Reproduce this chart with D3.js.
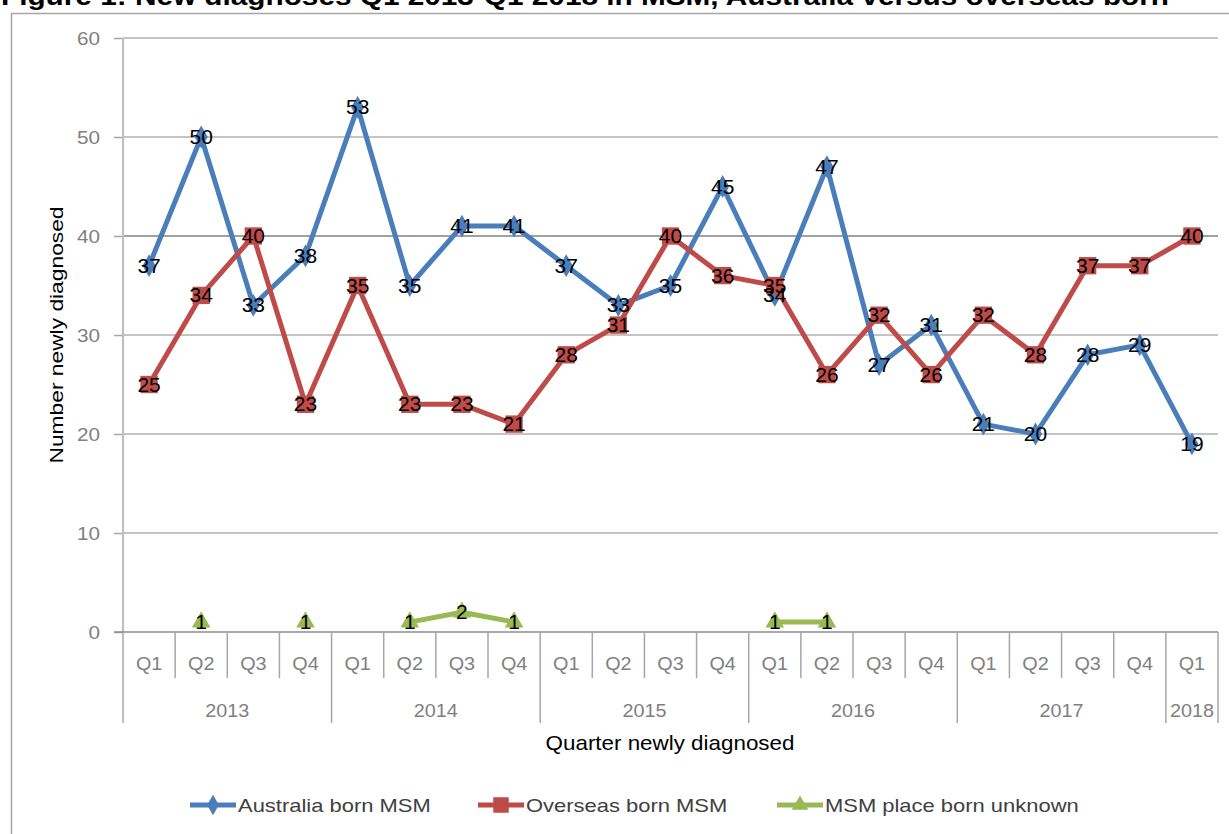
<!DOCTYPE html>
<html><head><meta charset="utf-8">
<script src="https://cdn.jsdelivr.net/npm/d3@7"></script>
<style>body{margin:0;background:#fff;overflow:hidden}svg{display:block}</style>
</head><body>
<svg id="c" width="1229" height="834"></svg>
<script>
const quarters = ["Q1","Q2","Q3","Q4","Q1","Q2","Q3","Q4","Q1","Q2","Q3","Q4","Q1","Q2","Q3","Q4","Q1","Q2","Q3","Q4","Q1"];
const years = [{label:"2013",start:0,end:4},{label:"2014",start:4,end:8},{label:"2015",start:8,end:12},{label:"2016",start:12,end:16},{label:"2017",start:16,end:20},{label:"2018",start:20,end:21}];
const australiaBorn = [37,50,33,38,53,35,41,41,37,33,35,45,34,47,27,31,21,20,28,29,19];
const overseasBorn = [25,34,40,23,35,23,23,21,28,31,40,36,35,26,32,26,32,28,37,37,40];
const placeUnknown = [null,1,null,1,null,1,2,1,null,null,null,null,1,1,null,null,null,null,null,null,null];
const yTicks = [0,10,20,30,40,50,60];

const FONT = "Liberation Sans, Arial, sans-serif";
const svg = d3.select("#c");
const L = 123, R = 1218, T = 38, B = 632;
const x = d3.scaleBand().domain(d3.range(quarters.length)).range([L, R]);
const y = d3.scaleLinear().domain([0, 60]).range([B, T]);
const cx = i => x(i) + x.bandwidth()/2;

function txt(g, tx, ty, str, size, sx, anchor, fill) {
  return g.append("text").attr("transform", `translate(${tx},${ty}) scale(${sx},1)`)
    .attr("text-anchor", anchor).attr("font-size", size).attr("font-family", FONT)
    .attr("fill", fill).text(str);
}

// title
svg.append("text").attr("x", 1).attr("y", 5).attr("font-family", FONT)
  .attr("font-weight","bold").attr("font-size", 26).attr("fill","#000")
  .attr("textLength", 1168).attr("lengthAdjust","spacingAndGlyphs")
  .text("Figure 1: New diagnoses Q1 2013-Q1 2018 in MSM, Australia versus overseas born");
// frame
svg.append("rect").attr("x", 11.5).attr("y", 13.5).attr("width", 1240).attr("height", 840)
  .attr("fill","none").attr("stroke","#a6a6a6").attr("stroke-width",1.5);

// gridlines
const grid = svg.append("g");
yTicks.filter(d => d > 0).forEach(d => {
  grid.append("line").attr("x1", L).attr("x2", R).attr("y1", y(d)).attr("y2", y(d))
    .attr("stroke", d === 40 ? "#808080" : "#c4c4c4").attr("stroke-width", d === 40 ? 1.3 : 2.2);
});

// y axis
const yAxis = svg.append("g").attr("transform", `translate(${L},0)`)
  .call(d3.axisLeft(y).tickValues(yTicks).tickSize(9).tickFormat(""));
yAxis.select(".domain").remove();
yAxis.selectAll(".tick line").attr("stroke","#a6a6a6").attr("stroke-width",1.5);
yTicks.forEach(d => txt(svg, 100, y(d) + 6.5, d, 18, 1.15, "end", "#808080"));
svg.append("line").attr("x1", L).attr("x2", L).attr("y1", T).attr("y2", 723)
  .attr("stroke","#bfbfbf").attr("stroke-width",2.2);

// x axis line
svg.append("line").attr("x1", L - 9).attr("x2", R).attr("y1", B).attr("y2", B)
  .attr("stroke","#8c8c8c").attr("stroke-width",1.5);
// category ticks
const xg = svg.append("g");
d3.range(1, quarters.length + 1).forEach(i => {
  const xx = i === quarters.length ? R : x(i);
  const isYear = years.some(yr => yr.end === i);
  xg.append("line").attr("x1", xx).attr("x2", xx).attr("y1", B).attr("y2", isYear ? 723 : 678)
    .attr("stroke","#a6a6a6").attr("stroke-width",1.5);
});
quarters.forEach((q, i) => txt(xg, cx(i), 670, q, 18, 1.1, "middle", "#808080"));
years.forEach(yr => {
  const x0 = x(yr.start), x1 = yr.end === quarters.length ? R : x(yr.end);
  txt(xg, (x0 + x1)/2, 717, yr.label, 18, 1.1, "middle", "#808080");
});

// axis titles
txt(svg, 670, 750, "Quarter newly diagnosed", 20, 1.12, "middle", "#000");
svg.append("text").attr("transform","translate(63,335) rotate(-90) scale(1.2,1)").attr("text-anchor","middle")
  .attr("font-size",19).attr("fill","#000").attr("font-family",FONT).text("Number newly diagnosed");

// series
const series = [
  {name:"Australia born MSM", data: australiaBorn, color:"#4a7ebb", sym: d3.symbolDiamond, size: 150},
  {name:"Overseas born MSM", data: overseasBorn, color:"#be4b48", sym: d3.symbolSquare, size: 300},
  {name:"MSM place born unknown", data: placeUnknown, color:"#98b954", sym: d3.symbolTriangle, size: 150}
];
const line = d3.line().defined(d => d.v != null).x(d => cx(d.i)).y(d => y(d.v));
series.forEach(s => {
  const pts = s.data.map((v, i) => ({v, i}));
  svg.append("path").datum(pts).attr("d", line).attr("fill","none")
    .attr("stroke", s.color).attr("stroke-width", 5).attr("stroke-linejoin","round");
  const g = svg.append("g");
  pts.filter(d => d.v != null).forEach(d => {
    g.append("path").attr("d", d3.symbol().type(s.sym).size(s.size)())
      .attr("transform", `translate(${cx(d.i)},${y(d.v)})`).attr("fill", s.color);
  });
});
series.forEach(s => {
  const g = svg.append("g");
  s.data.forEach((v, i) => {
    if (v == null) return;
    txt(g, cx(i), y(v) + 7, v, 20, 1.05, "middle", "#000");
  });
});

// legend
const lg = svg.append("g");
const legX = [190, 478, 777];
series.forEach((s, k) => {
  const lx = legX[k], ly = 805;
  lg.append("line").attr("x1", lx).attr("x2", lx + 46).attr("y1", ly).attr("y2", ly)
    .attr("stroke", s.color).attr("stroke-width", 5);
  lg.append("path").attr("d", d3.symbol().type(s.sym).size(s.size * 0.8)())
    .attr("transform", `translate(${lx + 23},${ly})`).attr("fill", s.color);
  txt(lg, lx + 48, ly + 6.5, s.name, 18, 1.22, "start", "#404040");
});
</script>
</body></html>
